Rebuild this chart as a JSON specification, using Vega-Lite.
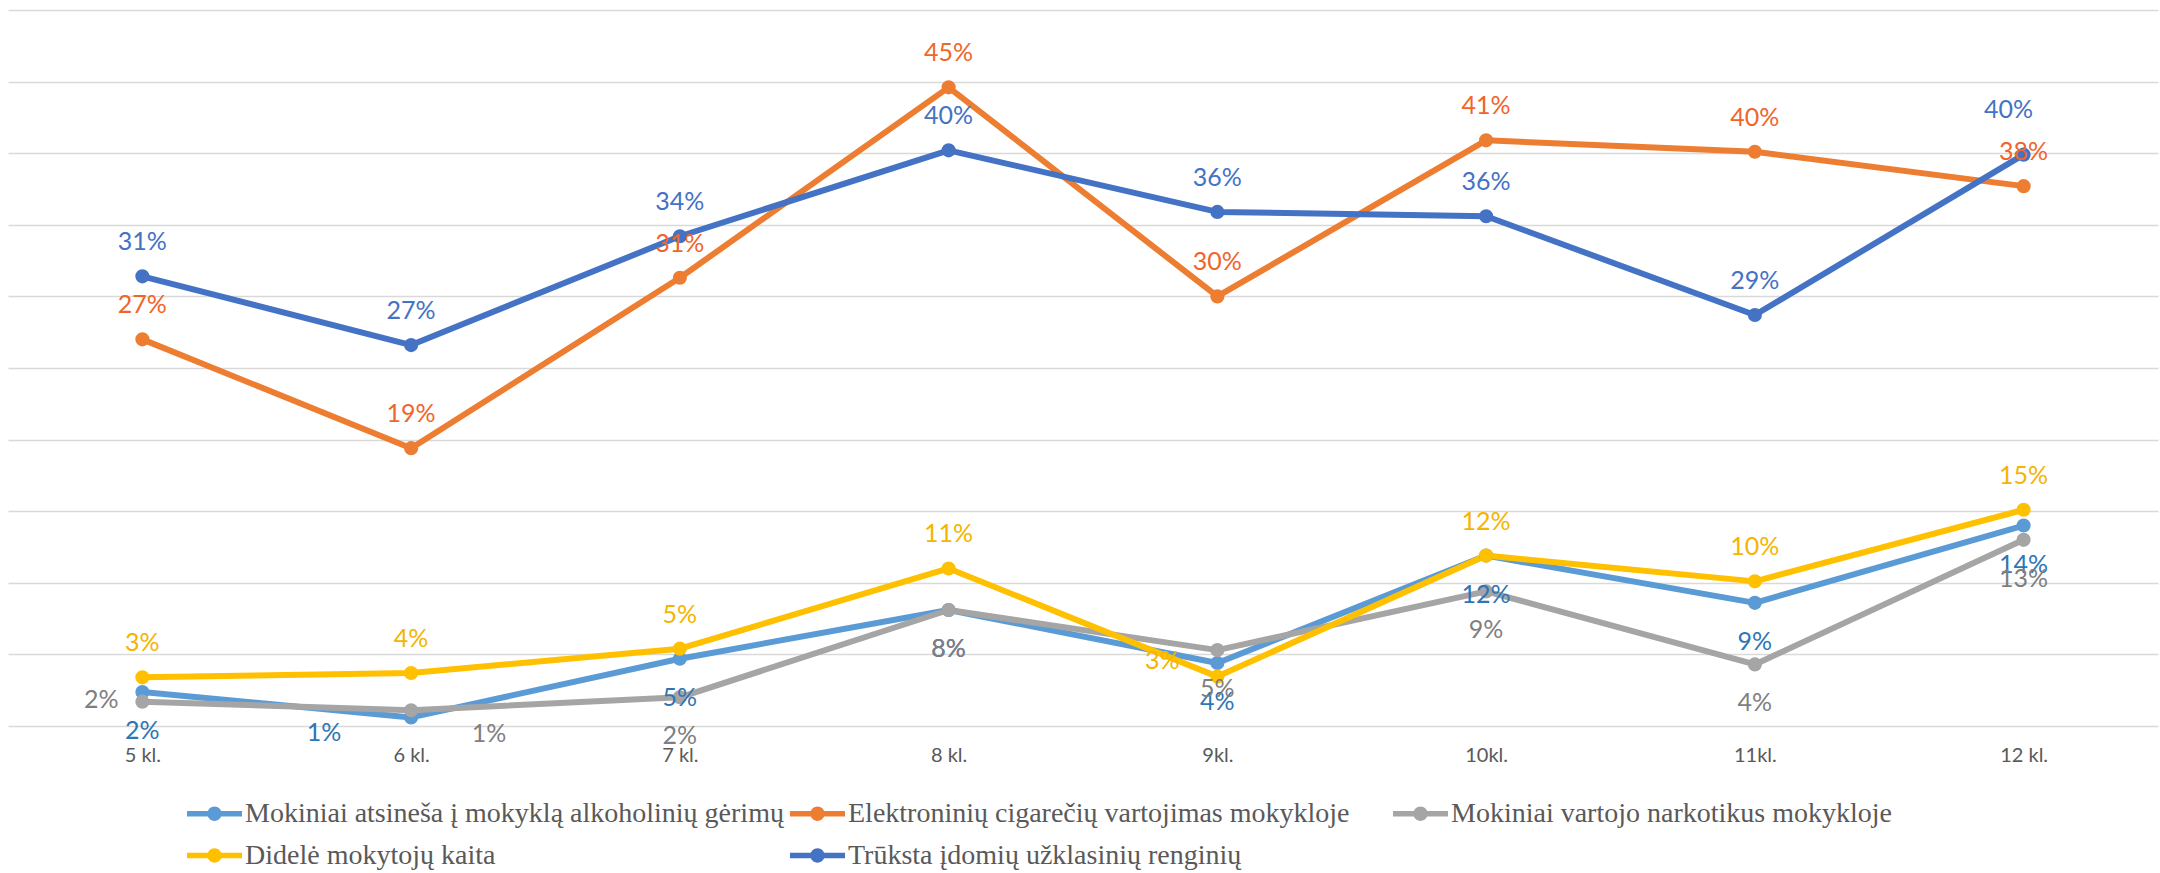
{
  "$schema": "https://vega.github.io/schema/vega-lite/v6.json",
  "width": 2150,
  "height": 716,
  "autosize": {"type": "none"},
  "padding": {"left": 8, "top": 10, "right": 2, "bottom": 147},
  "background": "white",
  "config": {"view": {"stroke": null}},
  "data": {"values": [
    {"series": "Mokiniai atsineša į mokyklą alkoholinių gėrimų", "grade": "5 kl.", "value": 0.0237},
    {"series": "Mokiniai atsineša į mokyklą alkoholinių gėrimų", "grade": "6 kl.", "value": 0.006},
    {"series": "Mokiniai atsineša į mokyklą alkoholinių gėrimų", "grade": "7 kl.", "value": 0.047},
    {"series": "Mokiniai atsineša į mokyklą alkoholinių gėrimų", "grade": "8 kl.", "value": 0.081},
    {"series": "Mokiniai atsineša į mokyklą alkoholinių gėrimų", "grade": "9kl.", "value": 0.044},
    {"series": "Mokiniai atsineša į mokyklą alkoholinių gėrimų", "grade": "10kl.", "value": 0.119},
    {"series": "Mokiniai atsineša į mokyklą alkoholinių gėrimų", "grade": "11kl.", "value": 0.086},
    {"series": "Mokiniai atsineša į mokyklą alkoholinių gėrimų", "grade": "12 kl.", "value": 0.140},
    {"series": "Elektroninių cigarečių vartojimas mokykloje", "grade": "5 kl.", "value": 0.270},
    {"series": "Elektroninių cigarečių vartojimas mokykloje", "grade": "6 kl.", "value": 0.194},
    {"series": "Elektroninių cigarečių vartojimas mokykloje", "grade": "7 kl.", "value": 0.313},
    {"series": "Elektroninių cigarečių vartojimas mokykloje", "grade": "8 kl.", "value": 0.446},
    {"series": "Elektroninių cigarečių vartojimas mokykloje", "grade": "9kl.", "value": 0.300},
    {"series": "Elektroninių cigarečių vartojimas mokykloje", "grade": "10kl.", "value": 0.409},
    {"series": "Elektroninių cigarečių vartojimas mokykloje", "grade": "11kl.", "value": 0.401},
    {"series": "Elektroninių cigarečių vartojimas mokykloje", "grade": "12 kl.", "value": 0.377},
    {"series": "Mokiniai vartojo narkotikus mokykloje", "grade": "5 kl.", "value": 0.017},
    {"series": "Mokiniai vartojo narkotikus mokykloje", "grade": "6 kl.", "value": 0.011},
    {"series": "Mokiniai vartojo narkotikus mokykloje", "grade": "7 kl.", "value": 0.020},
    {"series": "Mokiniai vartojo narkotikus mokykloje", "grade": "8 kl.", "value": 0.081},
    {"series": "Mokiniai vartojo narkotikus mokykloje", "grade": "9kl.", "value": 0.053},
    {"series": "Mokiniai vartojo narkotikus mokykloje", "grade": "10kl.", "value": 0.094},
    {"series": "Mokiniai vartojo narkotikus mokykloje", "grade": "11kl.", "value": 0.043},
    {"series": "Mokiniai vartojo narkotikus mokykloje", "grade": "12 kl.", "value": 0.130},
    {"series": "Didelė mokytojų kaita", "grade": "5 kl.", "value": 0.034},
    {"series": "Didelė mokytojų kaita", "grade": "6 kl.", "value": 0.037},
    {"series": "Didelė mokytojų kaita", "grade": "7 kl.", "value": 0.054},
    {"series": "Didelė mokytojų kaita", "grade": "8 kl.", "value": 0.110},
    {"series": "Didelė mokytojų kaita", "grade": "9kl.", "value": 0.0345},
    {"series": "Didelė mokytojų kaita", "grade": "10kl.", "value": 0.119},
    {"series": "Didelė mokytojų kaita", "grade": "11kl.", "value": 0.101},
    {"series": "Didelė mokytojų kaita", "grade": "12 kl.", "value": 0.151},
    {"series": "Trūksta įdomių užklasinių renginių", "grade": "5 kl.", "value": 0.314},
    {"series": "Trūksta įdomių užklasinių renginių", "grade": "6 kl.", "value": 0.266},
    {"series": "Trūksta įdomių užklasinių renginių", "grade": "7 kl.", "value": 0.342},
    {"series": "Trūksta įdomių užklasinių renginių", "grade": "8 kl.", "value": 0.402},
    {"series": "Trūksta įdomių užklasinių renginių", "grade": "9kl.", "value": 0.359},
    {"series": "Trūksta įdomių užklasinių renginių", "grade": "10kl.", "value": 0.356},
    {"series": "Trūksta įdomių užklasinių renginių", "grade": "11kl.", "value": 0.287},
    {"series": "Trūksta įdomių užklasinių renginių", "grade": "12 kl.", "value": 0.399}
  ]},
  "encoding": {
    "x": {"field": "grade", "type": "nominal", "sort": null,
      "scale": {"type": "point", "padding": 0.5},
      "axis": {"title": null, "domain": false, "ticks": false, "grid": false, "labelAngle": 0,
        "labelFont": "Lato", "labelFontSize": 20, "labelColor": "#595959", "labelPadding": 19}},
    "y": {"field": "value", "type": "quantitative",
      "scale": {"domain": [0, 0.5], "nice": false},
      "axis": {"title": null, "labels": false, "ticks": false, "domain": false,
        "values": [0, 0.05, 0.1, 0.15, 0.2, 0.25, 0.3, 0.35, 0.4, 0.45, 0.5],
        "gridColor": "#D9D9D9", "gridWidth": 1.3}}
  },
  "layer": [
    {
      "mark": {"type": "line", "strokeWidth": 6, "strokeCap": "round", "strokeJoin": "round"},
      "encoding": {
        "stroke": {"field": "series", "type": "nominal",
          "scale": {"domain": ["Mokiniai atsineša į mokyklą alkoholinių gėrimų", "Elektroninių cigarečių vartojimas mokykloje", "Mokiniai vartojo narkotikus mokykloje", "Didelė mokytojų kaita", "Trūksta įdomių užklasinių renginių"],
            "range": ["#5B9BD5", "#ED7D31", "#A5A5A5", "#FFC000", "#4472C4"]},
          "legend": {"title": null, "orient": "none", "legendX": 179, "legendY": 776, "direction": "horizontal",
            "columns": 3, "gridAlign": "all", "columnPadding": 6, "rowPadding": -10,
            "labelFont": "Liberation Serif", "labelFontSize": 28, "labelColor": "#595959", "labelLimit": 900, "labelOffset": 3,
            "symbolType": "M-1,-0.1H1V0.1H-1Z M0.26,0A0.26,0.26 0 1,1 -0.26,0A0.26,0.26 0 1,1 0.26,0Z",
            "symbolSize": 3025, "symbolStrokeWidth": 0,
            "encode": {"symbols": {"update": {"fill": {"scale": "stroke", "field": "value"}}}}}}
      }
    },
    {
      "mark": {"type": "point", "filled": true, "size": 200, "opacity": 1},
      "encoding": {
        "fill": {"field": "series", "type": "nominal",
          "scale": {"domain": ["Mokiniai atsineša į mokyklą alkoholinių gėrimų", "Elektroninių cigarečių vartojimas mokykloje", "Mokiniai vartojo narkotikus mokykloje", "Didelė mokytojų kaita", "Trūksta įdomių užklasinių renginių"],
            "range": ["#5B9BD5", "#ED7D31", "#A5A5A5", "#FFC000", "#4472C4"]},
          "legend": null}
      }
    },
    {
      "transform": [{"filter": "(datum.series === 'Elektroninių cigarečių vartojimas mokykloje' || datum.series === 'Trūksta įdomių užklasinių renginių' || datum.series === 'Didelė mokytojų kaita') && !(datum.series === 'Didelė mokytojų kaita' && datum.grade === '9kl.') && !(datum.series === 'Trūksta įdomių užklasinių renginių' && datum.grade === '12 kl.')"}],
      "mark": {"type": "text", "font": "Lato", "fontSize": 25, "dy": -34},
      "encoding": {
        "text": {"field": "value", "type": "quantitative", "format": ".0%"},
        "color": {"field": "series", "type": "nominal",
          "scale": {"domain": ["Mokiniai atsineša į mokyklą alkoholinių gėrimų", "Elektroninių cigarečių vartojimas mokykloje", "Mokiniai vartojo narkotikus mokykloje", "Didelė mokytojų kaita", "Trūksta įdomių užklasinių renginių"],
            "range": ["#2E75B6", "#F0652A", "#7F7F7F", "#F4B400", "#4472C4"]},
          "legend": null}
      }
    },
    {
      "transform": [{"filter": "(datum.series === 'Mokiniai atsineša į mokyklą alkoholinių gėrimų' || datum.series === 'Mokiniai vartojo narkotikus mokykloje') && !(datum.series === 'Mokiniai vartojo narkotikus mokykloje' && (datum.grade === '5 kl.' || datum.grade === '6 kl.')) && !(datum.series === 'Mokiniai atsineša į mokyklą alkoholinių gėrimų' && datum.grade === '6 kl.')"}],
      "mark": {"type": "text", "font": "Lato", "fontSize": 25, "dy": 39},
      "encoding": {
        "text": {"field": "value", "type": "quantitative", "format": ".0%"},
        "color": {"field": "series", "type": "nominal", "legend": null}
      }
    },
    {
      "transform": [{"filter": "datum.series === 'Mokiniai vartojo narkotikus mokykloje' && datum.grade === '5 kl.'"}],
      "mark": {"type": "text", "font": "Lato", "fontSize": 25, "dx": -41, "dy": -2},
      "encoding": {
        "text": {"field": "value", "type": "quantitative", "format": ".0%"},
        "color": {"field": "series", "type": "nominal", "legend": null}
      }
    },
    {
      "transform": [{"filter": "datum.series === 'Mokiniai vartojo narkotikus mokykloje' && datum.grade === '6 kl.'"}],
      "mark": {"type": "text", "font": "Lato", "fontSize": 25, "dx": 78, "dy": 24},
      "encoding": {
        "text": {"field": "value", "type": "quantitative", "format": ".0%"},
        "color": {"field": "series", "type": "nominal", "legend": null}
      }
    },
    {
      "transform": [{"filter": "datum.series === 'Mokiniai atsineša į mokyklą alkoholinių gėrimų' && datum.grade === '6 kl.'"}],
      "mark": {"type": "text", "font": "Lato", "fontSize": 25, "dx": -87, "dy": 16},
      "encoding": {
        "text": {"field": "value", "type": "quantitative", "format": ".0%"},
        "color": {"field": "series", "type": "nominal", "legend": null}
      }
    },
    {
      "transform": [{"filter": "datum.series === 'Didelė mokytojų kaita' && datum.grade === '9kl.'"}],
      "mark": {"type": "text", "font": "Lato", "fontSize": 25, "dx": -55, "dy": -16},
      "encoding": {
        "text": {"field": "value", "type": "quantitative", "format": ".0%"},
        "color": {"field": "series", "type": "nominal", "legend": null}
      }
    },
    {
      "transform": [{"filter": "datum.series === 'Trūksta įdomių užklasinių renginių' && datum.grade === '12 kl.'"}],
      "mark": {"type": "text", "font": "Lato", "fontSize": 25, "dx": -15, "dy": -45},
      "encoding": {
        "text": {"field": "value", "type": "quantitative", "format": ".0%"},
        "color": {"field": "series", "type": "nominal", "legend": null}
      }
    }
  ]
}
